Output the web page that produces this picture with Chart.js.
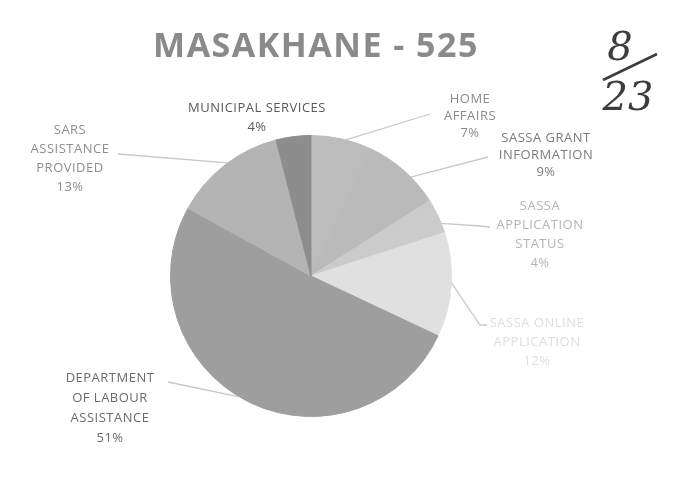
<!DOCTYPE html>
<html>
<head>
<meta charset="utf-8">
<script src="https://cdn.jsdelivr.net/npm/chart.js@4.4.1/dist/chart.umd.min.js"></script>
<style>
    html, body { margin: 0; padding: 0; background: #ffffff; }
    #chart { display: block; }
</style>
</head>
<body>
<canvas id="chart" width="676" height="494"></canvas>
<script>
// Categories, clockwise from 12 o'clock.
const categories = [
    'HOME AFFAIRS',
    'SASSA GRANT INFORMATION',
    'SASSA APPLICATION STATUS',
    'SASSA ONLINE APPLICATION',
    'DEPARTMENT OF LABOUR ASSISTANCE',
    'SARS ASSISTANCE PROVIDED',
    'MUNICIPAL SERVICES'
];
const percentages = [7, 9, 4, 12, 51, 13, 4];
const sliceColours = ['#bcbcbc', '#bababa', '#cbcbcb', '#e0e0e0', '#9e9e9e', '#b4b4b4', '#8d8d8d'];

const chartTitle = 'MASAKHANE - 525';

// How each label is written and where it sits; leader lines start on the slice edge.
const labelLines = [
    ['HOME', 'AFFAIRS', '7%'],
    ['SASSA GRANT', 'INFORMATION', '9%'],
    ['SASSA', 'APPLICATION', 'STATUS', '4%'],
    ['SASSA ONLINE', 'APPLICATION', '12%'],
    ['DEPARTMENT', 'OF LABOUR', 'ASSISTANCE', '51%'],
    ['SARS', 'ASSISTANCE', 'PROVIDED', '13%'],
    ['MUNICIPAL SERVICES', '4%']
];
const labelStyle = [
    { x: 470, y: 99, gap: 17, colour: '#8a8a8a', line: [[430, 114]], frac: 0.57 },
    { x: 546, y: 138, gap: 17, colour: '#7c7c7c', line: [[488, 157]], frac: 0.62 },
    { x: 540, y: 206, gap: 19, colour: '#b4b4b4', line: [[480, 226], [490, 227]], frac: 0.72 },
    { x: 537, y: 323, gap: 19, colour: '#dedede', line: [[480, 325], [487, 325]], frac: 0.48 },
    { x: 110, y: 378, gap: 20, colour: '#6a6a6a', line: [[168, 382]], frac: 0.52 },
    { x: 70, y: 130, gap: 19, colour: '#8e8e8e', line: [[118, 154]], frac: 0.53 },
    { x: 257, y: 108, gap: 19, colour: '#595959', line: null, frac: 0.5 }
];

const leaderLabels = {
    id: 'leaderLabels',
    afterDatasetsDraw(chart) {
        const ctx = chart.ctx;
        const arcs = chart.getDatasetMeta(0).data;
        ctx.save();

        arcs.forEach((arc, i) => {
            const style = labelStyle[i];
            const p = arc.getProps(['x', 'y', 'startAngle', 'endAngle', 'outerRadius'], true);

            if (style.line) {
                const a = p.startAngle + (p.endAngle - p.startAngle) * style.frac;
                const sx = p.x + Math.cos(a) * p.outerRadius;
                const sy = p.y + Math.sin(a) * p.outerRadius;
                ctx.strokeStyle = '#c8c8c8';
                ctx.lineWidth = 1.3;
                ctx.beginPath();
                ctx.moveTo(sx, sy);
                style.line.forEach(pt => ctx.lineTo(pt[0], pt[1]));
                ctx.stroke();
            }

            ctx.fillStyle = style.colour;
            ctx.font = '13px "Open Sans", sans-serif';
            ctx.letterSpacing = '0.5px';
            ctx.textAlign = 'center';
            ctx.textBaseline = 'middle';
            labelLines[i].forEach((txt, k) => {
                ctx.fillText(txt, style.x, style.y + k * style.gap);
            });
        });

        // title
        ctx.fillStyle = '#8a8a8a';
        ctx.font = 'bold 34px "Open Sans", sans-serif';
        ctx.letterSpacing = '1.5px';
        ctx.textAlign = 'center';
        ctx.textBaseline = 'middle';
        ctx.fillText(chartTitle, 316, 47);

        // handwritten mark in the corner
        ctx.letterSpacing = '0px';
        ctx.fillStyle = '#3c3c3c';
        ctx.font = 'italic 40px "DejaVu Serif", serif';
        ctx.fillText('8', 620, 50);
        ctx.fillText('23', 628, 100);
        ctx.strokeStyle = '#3c3c3c';
        ctx.lineWidth = 2.5;
        ctx.beginPath();
        ctx.moveTo(603, 80);
        ctx.lineTo(657, 54);
        ctx.stroke();

        ctx.restore();
    }
};

new Chart(document.getElementById('chart'), {
    type: 'pie',
    data: {
        labels: categories,
        datasets: [{
            data: percentages,
            backgroundColor: sliceColours,
            borderColor: sliceColours,
            borderWidth: 1
        }]
    },
    options: {
        responsive: false,
        animation: false,
        layout: {
            padding: { left: 169, right: 223, top: 135, bottom: 77 }
        },
        plugins: {
            legend: { display: false },
            tooltip: { enabled: false },
            title: { display: false }
        }
    },
    plugins: [leaderLabels]
});
</script>
</body>
</html>
